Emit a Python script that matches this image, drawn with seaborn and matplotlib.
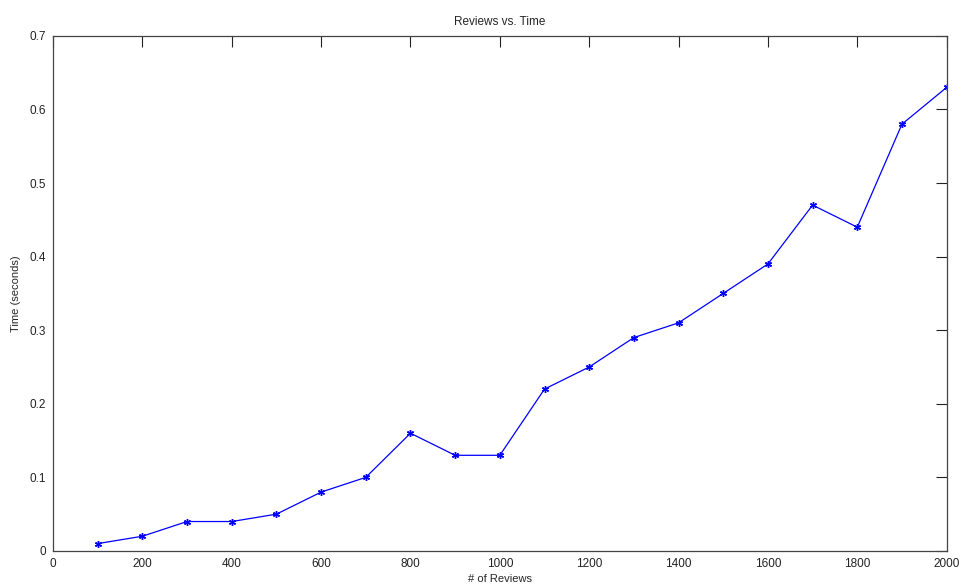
import matplotlib
matplotlib.use("Agg")
import matplotlib.pyplot as plt
import seaborn as sns
import pandas as pd

reviews = [100, 200, 300, 400, 500, 600, 700, 800, 900, 1000,
           1100, 1200, 1300, 1400, 1500, 1600, 1700, 1800, 1900, 2000]
seconds = [0.01, 0.02, 0.04, 0.04, 0.05, 0.08, 0.10, 0.16, 0.13, 0.13,
           0.22, 0.25, 0.29, 0.31, 0.35, 0.39, 0.47, 0.44, 0.58, 0.63]
x_ticks = [0, 200, 400, 600, 800, 1000, 1200, 1400, 1600, 1800, 2000]
y_ticks = [0, 0.1, 0.2, 0.3, 0.4, 0.5, 0.6, 0.7]
y_labels = ["0", "0.1", "0.2", "0.3", "0.4", "0.5", "0.6", "0.7"]

df = pd.DataFrame({"reviews": reviews, "seconds": seconds})

sns.set_style("white")
plt.rcParams["font.family"] = ["Liberation Sans", "DejaVu Sans"]

fig = plt.figure(figsize=(9.64, 5.88), dpi=100)
ax = fig.add_axes([0.055, 0.063, 0.927, 0.876])

sns.lineplot(data=df, x="reviews", y="seconds", ax=ax, color="#0000ff",
             linewidth=0.9, marker=(6, 2, 0), markersize=5,
             markeredgecolor="#0000ff", markeredgewidth=1.0)

ax.set_xlim(0, 2000)
ax.set_ylim(0, 0.7)
ax.set_xticks(x_ticks)
ax.set_xticklabels([str(t) for t in x_ticks])
ax.set_yticks(y_ticks)
ax.set_yticklabels(y_labels)
ax.tick_params(direction="in", length=8, width=0.8, labelsize=8.5,
               top=True, right=True, colors="#222222", pad=5)
for side in ax.spines.values():
    side.set_visible(True)
    side.set_color("#444444")
    side.set_linewidth(0.9)

ax.set_title("Reviews vs. Time", fontsize=8.5, pad=8)
ax.set_xlabel("# of Reviews", fontsize=8, labelpad=3)
ax.set_ylabel("Time (seconds)", fontsize=8, labelpad=6)

fig.savefig("out.png", dpi=100)
